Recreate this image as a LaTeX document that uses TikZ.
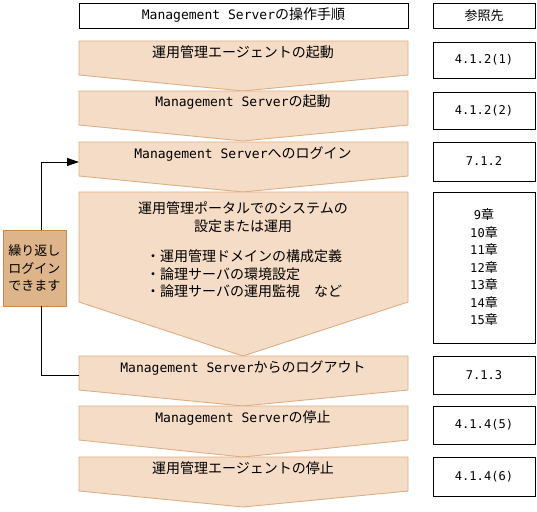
\documentclass[tikz,border=0pt]{standalone}
\usepackage{fontspec}
\setmainfont{Noto Sans CJK JP}
\newfontfamily\lat[Scale=0.93]{DejaVu Sans Mono}
\usetikzlibrary{arrows.meta}

\definecolor{stepfill}{HTML}{F5DCC6}
\definecolor{stepline}{HTML}{DCAE84}
\definecolor{loopfill}{HTML}{DEB48A}
\definecolor{loopline}{HTML}{C88A4C}

% one step of the procedure: top, side bottom, tip
\newcommand{\stepshape}[3]{%
  \draw[stepbox] (79,#1) -- (408,#1) -- (408,#2) -- (243,#3) -- (79,#2) -- cycle;}

\begin{document}
\begin{tikzpicture}[
  x=1pt, y=-1pt,
  stepbox/.style={draw=stepline, fill=stepfill, line width=0.9pt},
  txt/.style={font=\fontsize{13}{17.5}\selectfont, inner sep=0pt, align=center},
  steptxt/.style={txt, font=\fontsize{14}{17.5}\selectfont},
  refbox/.style={draw=black, line width=0.9pt, txt, minimum width=102pt},
  loopbox/.style={draw=loopline, fill=loopfill, line width=0.9pt, txt, minimum width=63pt, minimum height=76pt},
  arr/.style={-{Triangle[length=12pt, width=8pt]}, line width=0.9pt}
]
\useasboundingbox (0,0) rectangle (537,511);

% steps
\stepshape{41}{75}{91}
\stepshape{91}{125}{141}
\stepshape{142}{176}{192}
\stepshape{192}{302}{356}
\stepshape{356}{390}{406}
\stepshape{406}{440}{457}
\stepshape{457}{491}{507}

\node[steptxt] (st1) at (243,52) {運用管理エージェントの起動};
\node[steptxt] (st2) at (243,102) {{\lat Management Server}の起動};
\node[steptxt] (st3) at (243,154) {{\lat Management Server}へのログイン};
\node[steptxt] (st4) at (243,217) {運用管理ポータルでのシステムの\\設定または運用};
\node[steptxt, align=left, anchor=west] (st4list) at (146,274) {・運用管理ドメインの構成定義\\・論理サーバの環境設定\\・論理サーバの運用監視　など};
\node[steptxt] (st5) at (243,368) {{\lat Management Server}からのログアウト};
\node[steptxt] (st6) at (243,418) {{\lat Management Server}の停止};
\node[steptxt] (st7) at (243,468) {運用管理エージェントの停止};

% header and references
\node[refbox, minimum width=329pt, minimum height=25pt, steptxt] (head) at (243.5,15.5) {{\lat Management Server}の操作手順};
\node[refbox, minimum height=25pt] (ref0) at (484,15.5) {参照先};
\node[refbox, minimum height=36pt] (ref1) at (484,60) {\lat 4.1.2(1)};
\node[refbox, minimum height=37pt] (ref2) at (484,110.5) {\lat 4.1.2(2)};
\node[refbox, minimum height=39pt] (ref3) at (484,161.5) {\lat 7.1.2};
\node[refbox, minimum height=151pt] (ref4) at (484,267.5) {{\lat 9}章\\{\lat 10}章\\{\lat 11}章\\{\lat 12}章\\{\lat 13}章\\{\lat 14}章\\{\lat 15}章};
\node[refbox, minimum height=38pt] (ref5) at (484,375) {\lat 7.1.3};
\node[refbox, minimum height=38pt] (ref6) at (484,425) {\lat 4.1.4(5)};
\node[refbox, minimum height=39pt] (ref7) at (484,476.5) {\lat 4.1.4(6)};

% repeat loop
\coordinate (s3w) at (79,162);
\coordinate (s5w) at (79,375);
\node[loopbox] (loop) at (34.5,268) {繰り返し\\ログイン\\できます};
\draw[line width=0.9pt] (s5w) -| ([xshift=6.5pt]loop.south);
\draw[arr] ([xshift=6.5pt]loop.north) |- (s3w);
\end{tikzpicture}
\end{document}
